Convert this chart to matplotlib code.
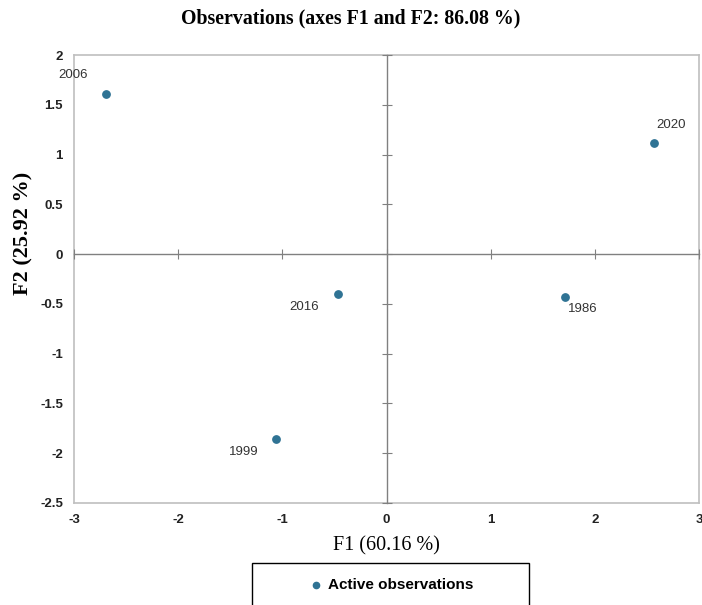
import numpy as np
import matplotlib
matplotlib.use("Agg")
import matplotlib.pyplot as plt
from matplotlib.patches import Rectangle

# observation scores on the first two factors
years = ["2006", "2020", "2016", "1986", "1999"]
f1 = [-2.69, 2.57, -0.47, 1.71, -1.06]
f2 = [1.61, 1.12, -0.40, -0.43, -1.86]
label_off = {"2006": (-33, 19), "2020": (17, 18), "2016": (-33, -13),
             "1986": (18, -12), "1999": (-32, -13)}

xticks = [-3, -2, -1, 0, 1, 2, 3]
yticks = [2, 1.5, 1, 0.5, 0, -0.5, -1, -1.5, -2, -2.5]

SANS = "Liberation Sans"
SERIF = "Liberation Serif"
DOT = "#2f7394"

W, H = 702, 605
fig = plt.figure(figsize=(W / 100, H / 100), dpi=100)
pos = [74 / W, 1 - 503 / H, 625 / W, 448 / H]
ax = fig.add_axes(pos)
ax.set_xlim(-3, 3); ax.set_ylim(-2.5, 2)
for s in ax.spines.values():
    s.set_color("#bfbfbf"); s.set_linewidth(1.2)
ax.set_xticks(xticks); ax.set_yticks(yticks)
ax.set_xticklabels([f"{t:g}" for t in xticks], fontfamily=SANS, fontsize=9.5,
                   fontweight="bold")
ax.set_yticklabels([f"{t:g}" for t in yticks], fontfamily=SANS, fontsize=9.5,
                   fontweight="bold")
ax.tick_params(length=0, pad=8, colors="#222222")

# zero axes with crossing tick marks
ax0 = fig.add_axes(pos, facecolor="none")
ax0.set_xlim(-3, 3); ax0.set_ylim(-2.5, 2)
ax0.spines["left"].set_position(("data", 0))
ax0.spines["bottom"].set_position(("data", 0))
ax0.spines["top"].set_visible(False); ax0.spines["right"].set_visible(False)
for k in ("left", "bottom"):
    ax0.spines[k].set_color("#808080"); ax0.spines[k].set_linewidth(1)
ax0.set_xticks(xticks); ax0.set_yticks(yticks)
ax0.tick_params(direction="inout", length=7, width=0.8, color="#808080",
                labelleft=False, labelbottom=False)

sc = ax0.scatter(f1, f2, s=28, color=DOT, zorder=5, label="Active observations")
for x, y, yr in zip(f1, f2, years):
    ax0.annotate(yr, (x, y), xytext=label_off[yr], textcoords="offset pixels",
                 ha="center", va="center", fontsize=9.5, fontfamily=SANS,
                 color="#333333", annotation_clip=False)

fig.text(0.5, 1 - 18 / H, "Observations (axes F1 and F2: 86.08 %)",
         ha="center", va="center", fontsize=14.3, fontweight="bold", fontfamily=SERIF)
fig.text(386 / W, 1 - 546 / H, "F1 (60.16 %)", ha="center", va="center",
         fontsize=14.5, fontfamily=SERIF)
fig.text(23 / W, 1 - 233 / H, "F2 (25.92 %)", ha="center", va="center",
         rotation=90, fontsize=16, fontweight="bold", fontfamily=SERIF)

# legend box running off the bottom edge
fig.patches.append(Rectangle((252 / W, -0.02), 277 / W, 0.02 + 42 / H,
                             transform=fig.transFigure, fill=False,
                             edgecolor="black", linewidth=1))
fig.legend(handles=[sc], loc="center", bbox_to_anchor=(387 / W, 1 - 585 / H),
           frameon=False, handletextpad=-0.2, markerscale=0.85,
           prop={"family": SANS, "size": 11, "weight": "bold"})

fig.savefig("out.png", dpi=100)
